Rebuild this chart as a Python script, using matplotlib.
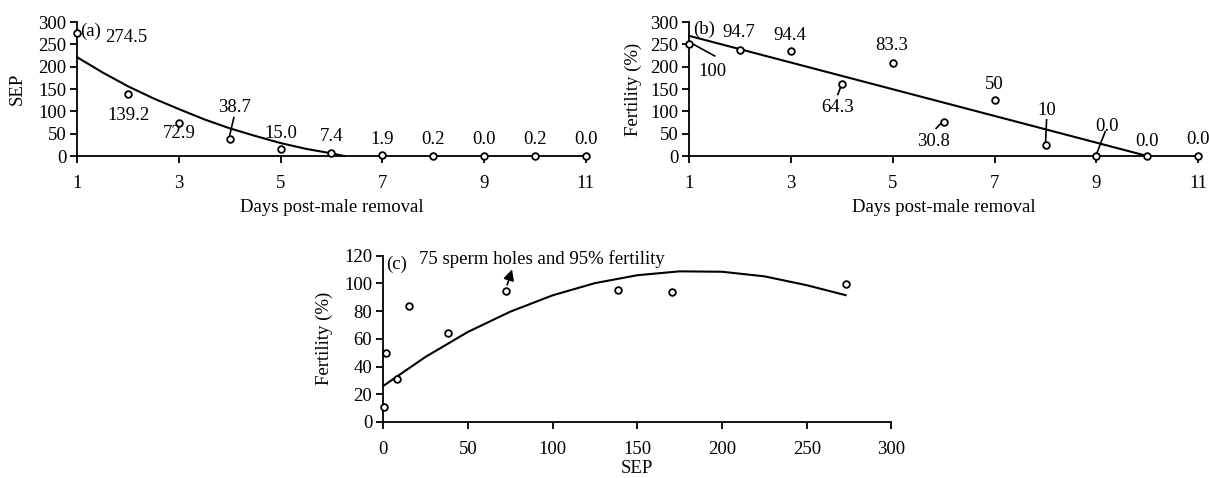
import matplotlib
matplotlib.use("Agg")
import matplotlib.pyplot as plt

plt.rcParams['font.family'] = ['Liberation Serif', 'DejaVu Serif']
plt.rcParams['font.size'] = 13.5

# (a) SEP by day after male removal
days = [1, 2, 3, 4, 5, 6, 7, 8, 9, 10, 11]
sep = [274.5, 139.2, 72.9, 38.7, 15.0, 7.4, 1.9, 0.2, 0.0, 0.2, 0.0]
sep_labels = ["274.5", "139.2", "72.9", "38.7", "15.0", "7.4", "1.9", "0.2", "0.0", "0.2", "0.0"]
sep_fit_x = [1, 1.5, 2, 2.5, 3, 3.5, 4, 4.5, 5, 5.5, 6, 6.25]
sep_fit_y = [221, 187, 156, 129, 105, 82, 62, 45, 29, 16, 6, 0]

# (b) fertility (plotted on the 0-300 scale as in the original)
fert_plot = [250, 237, 236, 161, 208, 77, 125, 25, 0, 0, 0]
fert_labels = ["100", "94.7", "94.4", "64.3", "83.3", "30.8", "50", "10", "0.0", "0.0", "0.0"]
fert_fit_x = [1, 10]
fert_fit_y = [269, 0]

# (c) fertility vs SEP
c_sep = [0.2, 1.9, 7.9, 15.4, 38.5, 72.7, 138.7, 170.2, 273.4]
c_fert = [11, 50, 31, 83.8, 64.5, 94.2, 95.2, 93.5, 99.8]
c_fit_x = [0, 25, 50, 75, 100, 125, 150, 175, 200, 225, 250, 273]
c_fit_y = [26, 47, 65, 79.6, 91.4, 100.2, 105.9, 108.7, 108.4, 105.1, 98.7, 91.5]

fig = plt.figure(figsize=(12.09, 4.78), dpi=100)
ax_a = fig.add_axes([0.0639, 0.6736, 0.4205, 0.2803])
ax_b = fig.add_axes([0.5701, 0.6736, 0.4210, 0.2803])
ax_c = fig.add_axes([0.3170, 0.1172, 0.4203, 0.3479])

mk = dict(marker='o', ms=4.8, mfc='white', mec='black', mew=1.3, ls='none', clip_on=False, zorder=3)


def style(ax):
    for s in ['top', 'right']:
        ax.spines[s].set_visible(False)
    for s in ['left', 'bottom']:
        ax.spines[s].set_linewidth(1.3)
    ax.tick_params(direction='out', length=5, width=1.3, labelsize=13.5)
    ax.tick_params(axis='x', pad=9)
    ax.tick_params(axis='y', pad=3)


# panel a
ax_a.plot(sep_fit_x, sep_fit_y, color='black', lw=1.5, clip_on=False)
ax_a.plot(days, sep, **mk)
ax_a.set_xlim(1, 11)
ax_a.set_ylim(0, 300)
ax_a.set_xticks([1, 3, 5, 7, 9, 11])
ax_a.set_yticks(range(0, 301, 50))
ax_a.set_xlabel("Days post-male removal", labelpad=5)
ax_a.set_ylabel("SEP", labelpad=9)
style(ax_a)
ax_a.text(1.05, 280, "(a)", ha='left', va='center')
a_pos = [(1.55, 266, 'left'), (2.0, 91, 'center'), (3.0, 51, 'center'), (4.1, 109, 'center'),
         (5.0, 51, 'center'), (6.0, 44, 'center'), (7.0, 38, 'center'), (8.0, 38, 'center'),
         (9.0, 38, 'center'), (10.0, 38, 'center'), (11.0, 38, 'center')]
for lab, (x, y, ha) in zip(sep_labels, a_pos):
    ax_a.text(x, y, lab, ha=ha, va='center', clip_on=False)
ax_a.plot([4.08, 4.0], [86, 47], color='black', lw=1.2)

# panel b
ax_b.plot(fert_fit_x, fert_fit_y, color='black', lw=1.5, clip_on=False)
ax_b.plot(days, fert_plot, **mk)
ax_b.set_xlim(1, 11)
ax_b.set_ylim(0, 300)
ax_b.set_xticks([1, 3, 5, 7, 9, 11])
ax_b.set_yticks(range(0, 301, 50))
ax_b.set_xlabel("Days post-male removal", labelpad=5)
ax_b.set_ylabel("Fertility (%)", labelpad=6)
style(ax_b)
ax_b.text(1.08, 284, "(b)", ha='left', va='center')
b_pos = [(1.46, 190), (1.98, 277), (2.98, 270), (3.92, 109), (4.98, 247), (5.8, 33),
         (6.99, 160), (8.02, 102), (9.2, 65), (10.0, 33), (11.0, 36)]
for lab, (x, y) in zip(fert_labels, b_pos):
    ax_b.text(x, y, lab, ha='center', va='center', clip_on=False)
leaders_b = [([1.02, 1.5], [254, 224]), ([3.98, 3.92], [156, 138]), ([5.96, 5.85], [75, 62]),
             ([8.02, 8.0], [81, 28]), ([9.17, 9.0], [54, 4])]
for xs, ys in leaders_b:
    ax_b.plot(xs, ys, color='black', lw=1.2)

# panel c
ax_c.plot(c_fit_x, c_fit_y, color='black', lw=1.5)
ax_c.plot(c_sep, c_fert, **mk)
ax_c.set_xlim(0, 300)
ax_c.set_ylim(0, 120)
ax_c.set_xticks(range(0, 301, 50))
ax_c.set_yticks(range(0, 121, 20))
ax_c.set_ylabel("Fertility (%)", labelpad=8)
ax_c.set_xlabel("SEP", labelpad=1)
style(ax_c)
ax_c.text(1.5, 114, "(c)", ha='left', va='center')
ax_c.annotate("", xy=(76.5, 112), xytext=(72.7, 97),
              arrowprops=dict(arrowstyle='-|>', color='black', lw=1.2, mutation_scale=16))
ax_c.text(21, 117.5, "75 sperm holes and 95% fertility", ha='left', va='center')

fig.savefig("out.png", dpi=100)
